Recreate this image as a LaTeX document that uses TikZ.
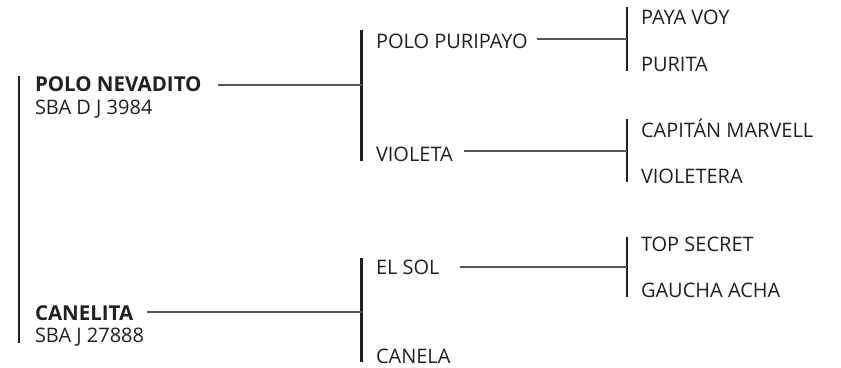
\documentclass[tikz,border=0pt]{standalone}
\usepackage{fontspec}
\setmainfont{Open Sans}
\definecolor{ink}{HTML}{231F20}
\definecolor{wire}{HTML}{555555}
\tikzset{
  lbl/.style={anchor=base west, inner sep=0pt, outer sep=0pt, text=ink, font=\fontsize{20}{20}\selectfont},
  lblb/.style={lbl, font=\fontsize{20.5}{20.5}\selectfont\bfseries},
  bar/.style={draw=ink, line width=2.6pt},
  conn/.style={draw=wire, line width=1.1pt},
}
\begin{document}
\begin{tikzpicture}[x=1pt,y=-1pt]
\useasboundingbox (0,0) rectangle (841,367);
% bars
\coordinate (b1t) at (19,76);   \coordinate (b1b) at (19,343);
\coordinate (b2t) at (361.5,30); \coordinate (b2b) at (361.5,161); \coordinate (j2) at (361.5,85);
\coordinate (b5t) at (361.5,258); \coordinate (b5b) at (361.5,362); \coordinate (j5) at (361.5,312);
\coordinate (b3t) at (627,7);   \coordinate (b3b) at (627,71);  \coordinate (j3) at (627,39);
\coordinate (b4t) at (627,119); \coordinate (b4b) at (627,182); \coordinate (j4) at (627,151);
\coordinate (b6t) at (627,237); \coordinate (b6b) at (627,297); \coordinate (j6) at (627,267);
\draw[bar] (b1t) -- (b1b);
\draw[bar] (b2t) -- (b2b);
\draw[bar] (b5t) -- (b5b);
\draw[bar] (b3t) -- (b3b);
\draw[bar] (b4t) -- (b4b);
\draw[bar] (b6t) -- (b6b);
% labels
\node[lblb] (pn) at (35,91) {POLO NEVADITO};
\node[lbl] (pnr) at (35,114) {SBA D J 3984};
\node[lblb] (cn) at (35,320) {CANELITA};
\node[lbl] (cnr) at (35,342) {SBA J 27888};
\node[lbl] (pp) at (376,48) {POLO PURIPAYO};
\node[lbl] (vi) at (376,161) {VIOLETA};
\node[lbl] (es) at (376,274) {EL SOL};
\node[lbl] (ca) at (376,363) {CANELA};
\node[lbl] (pv) at (641,24) {PAYA VOY};
\node[lbl] (pu) at (641,71) {PURITA};
\node[lbl] (cm) at (641,137) {CAPITÁN MARVELL};
\node[lbl] (vt) at (641,183) {VIOLETERA};
\node[lbl] (ts) at (641,251) {TOP SECRET};
\node[lbl] (ga) at (641,297) {GAUCHA ACHA};
% connectors
\draw[conn] ([xshift=16pt]pn.east |- j2) -- (j2);
\draw[conn] ([xshift=14pt]cn.east |- j5) -- (j5);
\draw[conn] ([xshift=9pt]pp.east |- j3) -- (j3);
\draw[conn] ([xshift=11pt]vi.east |- j4) -- (j4);
\draw[conn] ([xshift=20pt]es.east |- j6) -- (j6);
\end{tikzpicture}
\end{document}
